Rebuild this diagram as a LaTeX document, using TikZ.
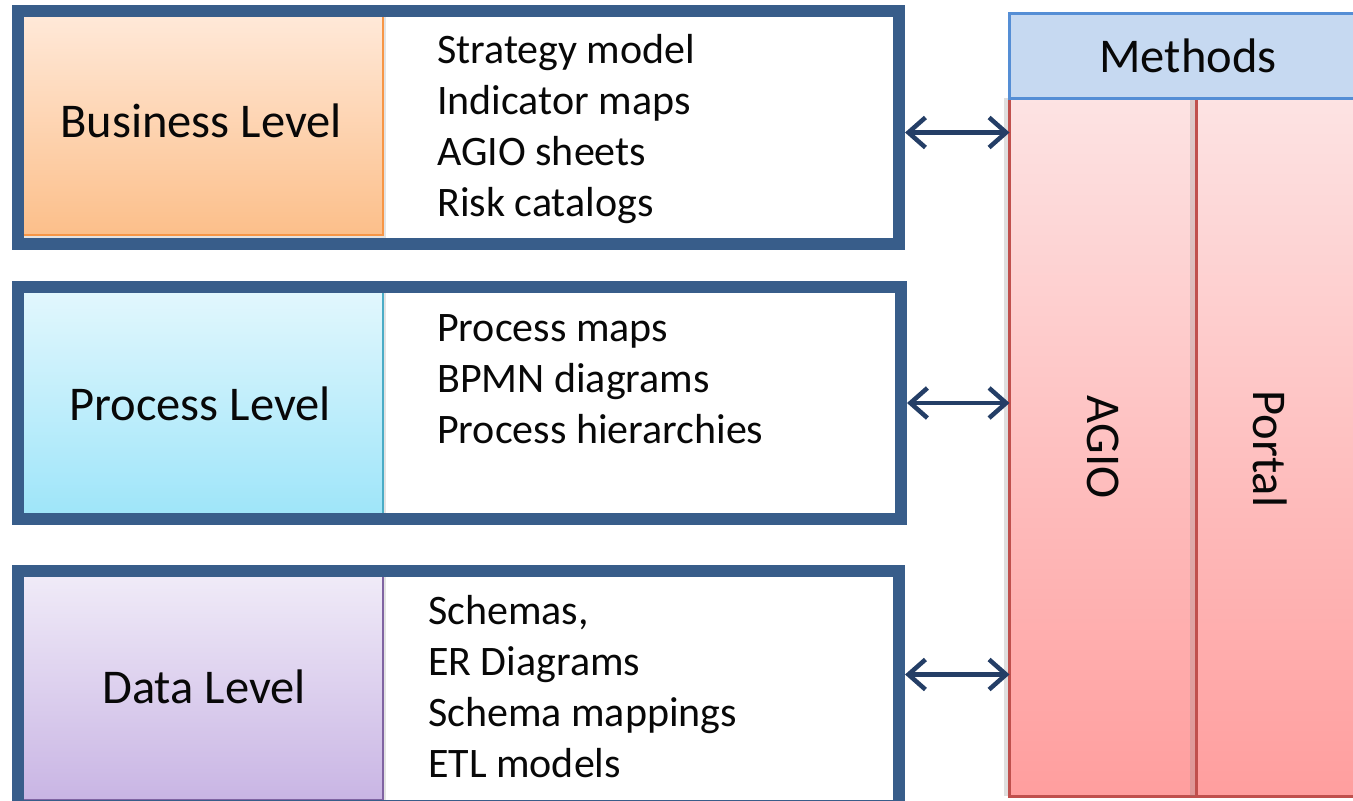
\documentclass[tikz,border=0pt]{standalone}
\usepackage{fontspec}
\setmainfont{Carlito}
\usetikzlibrary{arrows.meta,shadows}

\definecolor{framec}{HTML}{385D8A}
\definecolor{arrowc}{HTML}{243E66}
\definecolor{orangetop}{HTML}{FFE9D9}
\definecolor{orangebot}{HTML}{FCBF8A}
\definecolor{orangeln}{HTML}{F79646}
\definecolor{aquatop}{HTML}{E2F7FD}
\definecolor{aquabot}{HTML}{9EE5F9}
\definecolor{aqualn}{HTML}{4BACC6}
\definecolor{purptop}{HTML}{F0EBF8}
\definecolor{purpbot}{HTML}{C9B5E4}
\definecolor{purpln}{HTML}{8064A2}
\definecolor{redtop}{HTML}{FDE3E3}
\definecolor{redbot}{HTML}{FF9E9E}
\definecolor{redln}{HTML}{C0504D}
\definecolor{methfill}{HTML}{C6D9F1}
\definecolor{methln}{HTML}{558ED5}
\definecolor{ink}{HTML}{080808}

\begin{document}
\begin{tikzpicture}[x=1pt,y=-1pt,
  box/.style={rectangle,inner sep=0pt,outer sep=0pt,anchor=north west},
  panel/.style={box,line width=2.5pt,
    drop shadow={shadow xshift=3pt,shadow yshift=-3pt,opacity=.22}},
  frame/.style={rectangle,inner sep=0pt,outer sep=6pt,anchor=north west,
    draw=framec,line width=12pt},
  column/.style={box,draw=redln,line width=3pt,top color=redtop,bottom color=redbot,
    drop shadow={shadow xshift=-6pt,shadow yshift=0pt,opacity=.25}},
  level/.style={font=\fontsize{48.5}{58}\selectfont,text=ink,anchor=base},
  item/.style={font=\fontsize{42}{51}\selectfont,text=ink,anchor=base west,inner sep=0pt},
  biarrow/.style={draw=arrowc,line width=4.5pt,
    {Straight Barb[length=17pt,width=30pt]}-{Straight Barb[length=17pt,width=30pt]}}
]
\useasboundingbox (0,0) rectangle (1353,801);
\clip (0,0) rectangle (1353,801);

% coloured level panels
\node[panel,draw=orangeln,top color=orangetop,bottom color=orangebot,
  minimum width=362pt,minimum height=221pt] (bpanel) at (21,14) {};
\node[panel,draw=aqualn,top color=aquatop,bottom color=aquabot,
  minimum width=362pt,minimum height=226pt] (ppanel) at (21,290) {};
\node[panel,draw=purpln,top color=purptop,bottom color=purpbot,
  minimum width=362pt,minimum height=226pt] (dpanel) at (21,574) {};

% dark outer frames of the three levels
\node[frame,minimum width=881pt,minimum height=233pt] (bframe) at (12,5) {};
\node[frame,minimum width=883pt,minimum height=232pt] (pframe) at (12,281) {};
\node[frame,minimum width=881pt,minimum height=235pt] (dframe) at (12,565) {};

% level names
\node[level] (bname) at (201,137) {Business Level};
\node[level] (pname) at (200,420) {Process Level};
\node[level] (dname) at (204,703) {Data Level};

% artefacts of each level
\foreach \t [count=\i] in {Strategy model,Indicator maps,AGIO sheets,Risk catalogs}
  \node[item] (bitem\i) at (437,{63+51.3*(\i-1)}) {\t};
\foreach \t [count=\i] in {Process maps,BPMN diagrams,Process hierarchies}
  \node[item] (pitem\i) at (437,{341+51*(\i-1)}) {\t};
\foreach \t [count=\i] in {{Schemas,},ER Diagrams,Schema mappings,ETL models}
  \node[item] (ditem\i) at (428,{624+51*(\i-1)}) {\t};

% methods block with its two columns
\node[column,minimum width=186.5pt,minimum height=698pt] (agio) at (1009.5,98) {};
\node[column,minimum width=175pt,minimum height=698pt] (portal) at (1196,98) {};
\node[box,draw=methln,fill=methfill,line width=3pt,
  minimum width=358pt,minimum height=84.5pt] (methods) at (1009.5,13.5) {};
\node[level] (mname) at (1188,72) {Methods};
\node[level,anchor=center,rotate=-90] (agiotext) at (agio.center) {AGIO};
\node[level,anchor=center,rotate=-90] (portaltext) at (1270,449) {Portal};

% links between levels and methods
\draw[biarrow] ([yshift=-5pt]bframe.east) -- ([yshift=-5pt]bframe.east -| agio.west);
\draw[biarrow] (pframe.east) -- (pframe.east -| agio.west);
\draw[biarrow] ([yshift=14pt]dframe.east) -- ([yshift=14pt]dframe.east -| agio.west);
\end{tikzpicture}
\end{document}
